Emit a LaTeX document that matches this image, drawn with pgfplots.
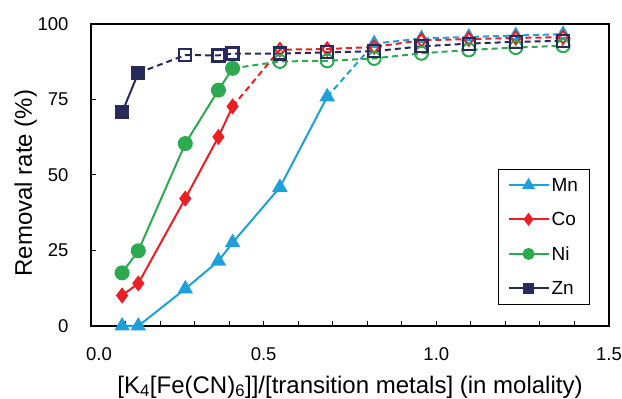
\documentclass[border=0pt]{standalone}
\usepackage{fontspec}
\setmainfont{Liberation Sans}
\usepackage{pgfplots}
\pgfplotsset{compat=1.18}
\definecolor{mn}{RGB}{30,160,220}
\definecolor{co}{RGB}{235,30,35}
\definecolor{ni}{RGB}{45,170,80}
\definecolor{zn}{RGB}{40,42,90}
\begin{document}
\begin{tikzpicture}
\begin{axis}[
  scale only axis, width=518pt, height=302pt,
  xmin=0, xmax=1.5, ymin=0, ymax=100,
  xtick={0,0.5,1,1.5}, xticklabels={\hspace{16pt}0.0,0.5,1.0,1.5},
  minor x tick num=4,
  ytick={0,25,50,75,100}, yticklabels={0,25,50,75,100},
  tick pos=left, tick align=inside,
  major tick length=5pt, minor tick length=5pt,
  every tick/.style={black, line width=1pt},
  axis line style={line width=1.8pt},
  ticklabel style={font=\fontsize{18.5}{20}\selectfont},
  yticklabel style={xshift=-19pt},
  xticklabel style={yshift=-18pt},
  label style={font=\fontsize{24}{26}\selectfont},
  xlabel={[K\textsubscript{4}[Fe(CN)\textsubscript{6}]]/[transition metals] (in molality)},
  ylabel={Removal rate (\%)},
  x label style={at={(axis description cs:0.5,0)}, anchor=base, yshift=-67pt},
  y label style={at={(axis description cs:0,0.5)}, anchor=base, yshift=59pt, xshift=-8pt},
  clip=false,
  legend image code/.code={\draw[mark repeat=2,mark phase=2,#1] plot coordinates {(0pt,0pt)(20pt,0pt)(40pt,0pt)};},
  legend style={at={(0.963,0.0695)}, anchor=south east, draw=black, line width=0.8pt,
    font=\fontsize{19}{19}\selectfont, inner xsep=9.5pt, inner ysep=7pt, row sep=15.5pt,
    cells={anchor=west}},
]
\addlegendimage{mn, line width=2pt, mark=triangle*, mark size=5.5pt}
\addlegendentry{Mn}
\addlegendimage{co, line width=2pt, mark=diamond*, mark size=5pt}
\addlegendentry{Co}
\addlegendimage{ni, line width=2pt, mark=*, mark size=5pt}
\addlegendentry{Ni}
\addlegendimage{zn, line width=2pt, mark=square*, mark size=4.5pt}
\addlegendentry{Zn}

% Mn
\addplot[mn, line width=2pt, mark=triangle*, mark size=7pt, forget plot] coordinates {
(0.090,0) (0.137,0) (0.273,12.3) (0.369,21.5) (0.410,27.6) (0.547,45.9) (0.684,75.9)};
\addplot[mn, line width=2pt, dash pattern=on 6pt off 4pt, mark=triangle, mark size=7pt,
  mark options={solid, fill=white, line width=2pt}, mark indices={2,3,4,5,6}, forget plot] coordinates {
(0.684,75.9) (0.820,93.5) (0.957,95.2) (1.094,95.7) (1.230,96.2) (1.367,96.6)};
% Co
\addplot[co, line width=2pt, mark=diamond*, mark size=6.5pt, forget plot] coordinates {
(0.090,10.1) (0.137,14.1) (0.273,42.2) (0.369,62.6) (0.410,72.7)};
\addplot[co, line width=2pt, dash pattern=on 6pt off 4pt, mark=diamond, mark size=6.5pt,
  mark options={solid, fill=white, line width=2pt}, mark indices={2,3,4,5,6,7,8}, forget plot] coordinates {
(0.410,72.7) (0.547,91.5) (0.684,91.7) (0.820,92.4) (0.957,94.6) (1.094,95.0) (1.230,95.4) (1.367,95.6)};
% Ni
\addplot[ni, line width=2pt, mark=*, mark size=6.5pt, forget plot] coordinates {
(0.090,17.6) (0.137,24.9) (0.273,60.4) (0.369,78.1) (0.410,85.3)};
\addplot[ni, line width=2pt, dash pattern=on 6pt off 4pt, mark=o, mark size=6.5pt,
  mark options={solid, fill=white, line width=2pt}, mark indices={2,3,4,5,6,7,8}, forget plot] coordinates {
(0.410,85.3) (0.547,87.6) (0.684,87.8) (0.820,88.6) (0.957,90.3) (1.094,91.4) (1.230,92.2) (1.367,92.8)};
% Zn
\addplot[zn, line width=2pt, mark=square*, mark size=6pt, forget plot] coordinates {
(0.090,70.7) (0.137,83.8)};
\addplot[zn, line width=2pt, dash pattern=on 6pt off 4pt, mark=square, mark size=6pt,
  mark options={solid, fill=white, line width=2.2pt}, mark indices={2,3,4,5,6,7,8,9,10,11}, forget plot] coordinates {
(0.137,83.8) (0.273,89.7) (0.369,89.6) (0.410,90.2) (0.547,90.2) (0.684,90.6) (0.820,91.0) (0.957,92.6) (1.094,93.5) (1.230,94.1) (1.367,94.4)};
\end{axis}
\pgfresetboundingbox
\path[use as bounding box] (-91pt,-73pt) rectangle (531pt,326pt);
\end{tikzpicture}
\end{document}
